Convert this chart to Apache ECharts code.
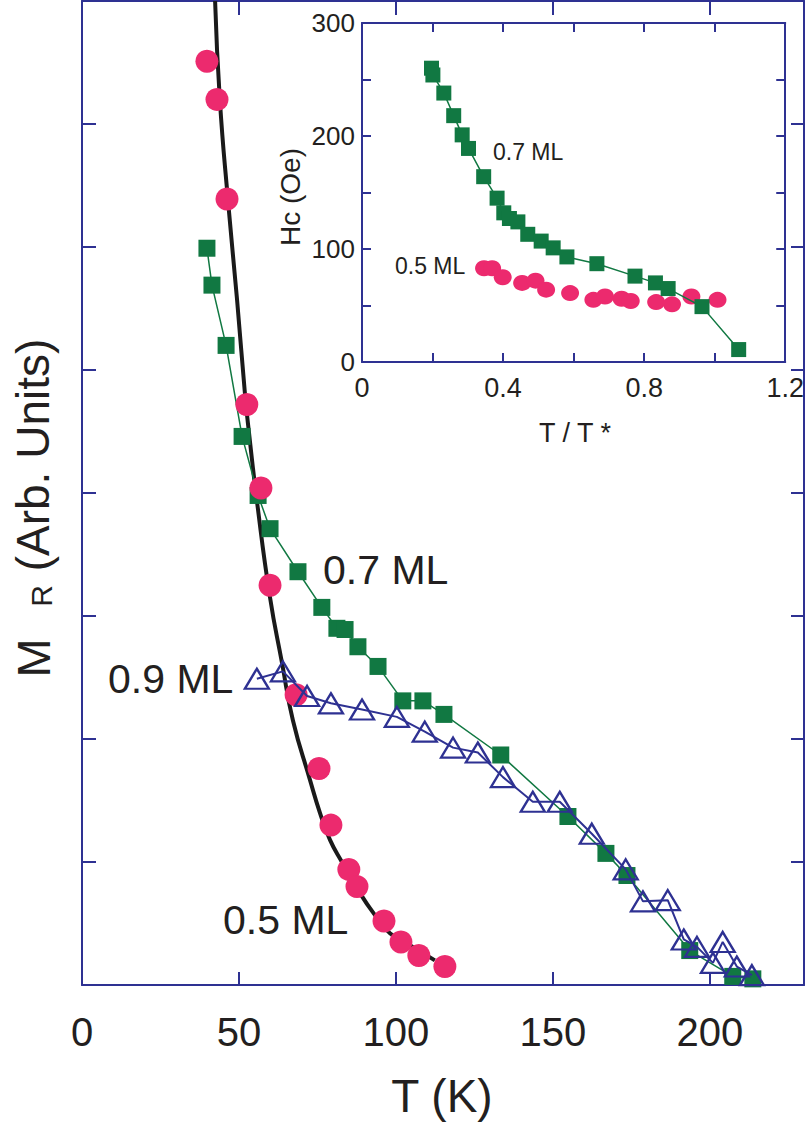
<!DOCTYPE html>
<html>
<head>
<meta charset="utf-8">
<script src="https://cdn.jsdelivr.net/npm/echarts@6/dist/echarts.min.js"></script>
<style>
  html, body { margin: 0; padding: 0; background: #fff; }
  #chart { width: 807px; height: 1126px; }
</style>
</head>
<body>
<div id="chart"></div>
<script>
// main panel: remanent magnetisation vs temperature
var fitT = [42.4, 43.9, 46.5, 49.4, 51.9, 53.2, 55.7, 59.9, 63.7, 67.2, 72.6, 75.8, 79.0, 82.8, 88.5, 92.7, 98.1, 105.4, 112.4];
var fitM = [8.0, 7.20, 6.38, 5.57, 4.81, 4.49, 3.94, 3.15, 2.62, 2.15, 1.67, 1.40, 1.18, 1.00, 0.75, 0.59, 0.42, 0.31, 0.20];

var ml05T = [39.8, 43.0, 46.2, 52.5, 57.0, 59.9, 68.2, 75.5, 79.3, 85.0, 87.6, 96.2, 101.6, 107.3, 115.6];
var ml05M = [7.51, 7.20, 6.39, 4.72, 4.04, 3.25, 2.36, 1.76, 1.30, 0.94, 0.80, 0.52, 0.35, 0.24, 0.15];

var ml07T = [39.8, 41.4, 45.9, 51.0, 56.1, 59.9, 68.8, 76.4, 81.2, 83.8, 87.9, 94.3, 102.2, 108.6, 115.3, 133.4, 154.8, 166.9, 173.6, 193.6, 207.3, 213.7];
var ml07M = [5.99, 5.69, 5.20, 4.46, 3.98, 3.71, 3.36, 3.07, 2.90, 2.89, 2.75, 2.59, 2.31, 2.31, 2.20, 1.87, 1.37, 1.07, 0.89, 0.28, 0.07, 0.05];

var ml09T = [55.7, 64.0, 71.7, 79.3, 89.2, 100.3, 109.2, 118.2, 126.1, 134.1, 143.6, 152.2, 162.4, 173.2, 178.7, 186.6, 191.7, 195.9, 201.0, 204.1, 208.6, 213.4];
var ml09M = [2.49, 2.55, 2.35, 2.29, 2.24, 2.18, 2.06, 1.93, 1.89, 1.69, 1.49, 1.49, 1.23, 0.94, 0.68, 0.69, 0.37, 0.31, 0.18, 0.35, 0.15, 0.08];

// inset: coercivity vs reduced temperature
var hc07T = [0.197, 0.201, 0.232, 0.260, 0.284, 0.302, 0.345, 0.383, 0.402, 0.418, 0.442, 0.470, 0.508, 0.542, 0.581, 0.666, 0.774, 0.832, 0.868, 0.964, 1.068];
var hc07H = [260, 254, 238, 218, 201, 189, 164, 145, 132, 127, 124, 113, 107, 101, 93, 87, 76, 70, 65, 49, 11];

var hc05T = [0.346, 0.369, 0.399, 0.454, 0.492, 0.522, 0.590, 0.656, 0.689, 0.736, 0.762, 0.834, 0.879, 0.934, 1.008];
var hc05H = [83, 83, 75, 70, 72, 64, 61, 55, 58, 56, 54, 53, 51, 58, 55];

var xTicksMain = [0, 50, 100, 150, 200];
var xTicksInset = [0, 0.4, 0.8, 1.2];
var yTicksInset = [0, 100, 200, 300];

var BLUE = '#2e3192', GREEN = '#117842', PINK = '#ec2a6e', INK = '#231f20';
var FONT = 'Liberation Sans, Arial, sans-serif';

function pairs(xs, ys) {
  return xs.map(function (x, i) { return [x, ys[i]]; });
}
function onTicks(list) {
  return function (v) {
    for (var i = 0; i < list.length; i++) {
      if (Math.abs(list[i] - v) < 1e-6) return String(list[i]);
    }
    return '';
  };
}
function frameAxis(grid, pos, min, max, interval, tickLen, labels) {
  var ax = {
    type: 'value', gridIndex: grid, position: pos, min: min, max: max, interval: interval,
    axisLine: { show: true, onZero: false, lineStyle: { color: BLUE, width: 2 } },
    axisTick: { show: true, inside: true, length: tickLen, lineStyle: { color: BLUE, width: 2 } },
    splitLine: { show: false },
    axisLabel: { show: false }
  };
  if (labels) ax.axisLabel = labels;
  return ax;
}
function label(text, x, y, size, align, rot) {
  return {
    type: 'text', x: x, y: y, rotation: rot || 0, z: 100,
    style: { text: text, font: size + 'px ' + FONT, fill: INK, align: align, verticalAlign: 'middle' }
  };
}

var chart = echarts.init(document.getElementById('chart'), null, { renderer: 'svg' });

chart.setOption({
  animation: false,
  backgroundColor: '#fff',
  grid: [
    { left: 82, top: 1, width: 723, height: 984 },
    { left: 362, top: 23, width: 425, height: 339, show: true, backgroundColor: '#fff', borderWidth: 0 }
  ],
  xAxis: [
    frameAxis(0, 'bottom', 0, 230, 50, 13, {
      show: true, fontSize: 40, fontFamily: FONT, color: INK, margin: 27, formatter: onTicks(xTicksMain)
    }),
    frameAxis(0, 'top', 0, 230, 50, 14),
    frameAxis(1, 'bottom', 0, 1.2, 0.2, 9, {
      show: true, fontSize: 27, fontFamily: FONT, color: INK, margin: 12, formatter: onTicks(xTicksInset)
    }),
    frameAxis(1, 'top', 0, 1.2, 0.2, 9)
  ],
  yAxis: [
    frameAxis(0, 'left', 0, 8, 1, 14),
    frameAxis(0, 'right', 0, 8, 1, 13),
    frameAxis(1, 'left', 0, 300, 50, 9, {
      show: true, fontSize: 26, fontFamily: FONT, color: INK, margin: 7, formatter: onTicks(yTicksInset)
    }),
    frameAxis(1, 'right', 0, 300, 50, 9)
  ],
  series: [
    {
      name: 'fit', type: 'line', xAxisIndex: 0, yAxisIndex: 0, z: 2,
      data: pairs(fitT, fitM), smooth: true, symbol: 'none',
      lineStyle: { color: '#1a1a1a', width: 4 }
    },
    {
      name: '0.7 ML', type: 'line', xAxisIndex: 0, yAxisIndex: 0, z: 3,
      data: pairs(ml07T, ml07M), symbol: 'rect', symbolSize: 17, showAllSymbol: true,
      itemStyle: { color: GREEN }, lineStyle: { color: GREEN, width: 1.5 }
    },
    {
      name: '0.5 ML', type: 'scatter', xAxisIndex: 0, yAxisIndex: 0, z: 4,
      data: pairs(ml05T, ml05M), symbol: 'circle', symbolSize: 23,
      itemStyle: { color: PINK, opacity: 1 }
    },
    {
      name: '0.9 ML', type: 'line', xAxisIndex: 0, yAxisIndex: 0, z: 5,
      data: pairs(ml09T, ml09M), symbol: 'triangle', symbolSize: [24, 20], showAllSymbol: true,
      itemStyle: { color: 'rgba(0,0,0,0)', borderColor: BLUE, borderWidth: 2.3 },
      lineStyle: { color: BLUE, width: 2 }
    },
    {
      name: 'Hc 0.5 ML', type: 'scatter', xAxisIndex: 2, yAxisIndex: 2, z: 6,
      data: pairs(hc05T, hc05H), symbol: 'circle', symbolSize: [18, 16],
      itemStyle: { color: PINK, opacity: 1 }
    },
    {
      name: 'Hc 0.7 ML', type: 'line', xAxisIndex: 2, yAxisIndex: 2, z: 7,
      data: pairs(hc07T, hc07H), symbol: 'rect', symbolSize: 15, showAllSymbol: true,
      itemStyle: { color: GREEN }, lineStyle: { color: GREEN, width: 1.5 }
    }
  ],
  graphic: [
    // y title of the main panel, M with a smaller R on the same baseline
    label('M', 33, 658, 47, 'center', Math.PI / 2),
    label('R', 41, 596, 30, 'center', Math.PI / 2),
    label('(Arb. Units)', 33, 455, 46, 'center', Math.PI / 2),
    label('T (K)', 442, 1096, 46, 'center'),
    label('Hc (Oe)', 290, 197, 28, 'center', Math.PI / 2),
    label('T / T *', 575, 433, 27, 'center'),
    label('0.7 ML', 323, 570, 41, 'left'),
    label('0.9 ML', 108, 679, 41, 'left'),
    label('0.5 ML', 223, 920, 41, 'left'),
    label('0.7 ML', 493, 152, 23, 'left'),
    label('0.5 ML', 395, 266, 23, 'left')
  ]
});
</script>
</body>
</html>
